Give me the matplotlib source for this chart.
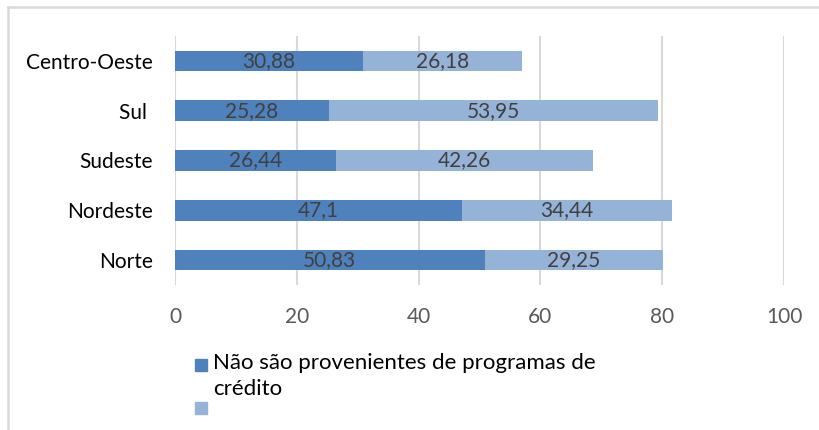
import matplotlib.pyplot as plt
from matplotlib.lines import Line2D
from matplotlib.patches import Rectangle

plt.rcParams['font.family'] = ['Lato', 'DejaVu Sans']

regions = ['Norte', 'Nordeste', 'Sudeste', 'Sul ', 'Centro-Oeste']
nao_credito = [50.83, 47.1, 26.44, 25.28, 30.88]
credito = [29.25, 34.44, 42.26, 53.95, 26.18]
x_ticks = [0, 20, 40, 60, 80, 100]

dark = '#4F81BD'
light = '#95B3D7'

W, H = 819, 430
fig = plt.figure(figsize=(W / 100, H / 100), dpi=100)
ax = fig.add_axes([175 / W, 1 - 285 / H, (784 - 175) / W, (285 - 36) / H])

pos = list(range(len(regions)))
ax.barh(pos, nao_credito, height=0.41, color=dark, zorder=3)
ax.barh(pos, credito, left=nao_credito, height=0.41, color=light, zorder=3)

def fmt(v):
    return ('%g' % v).replace('.', ',')

for i in pos:
    ax.text(nao_credito[i] / 2, i, fmt(nao_credito[i]), ha='center', va='center',
            fontsize=15, color='#404040', zorder=4)
    ax.text(nao_credito[i] + credito[i] / 2, i, fmt(credito[i]), ha='center', va='center',
            fontsize=15, color='#404040', zorder=4)

ax.set_xlim(0, 100)
ax.set_ylim(-0.5, 4.5)
ax.set_xticks(x_ticks)
ax.set_xticklabels([str(t) for t in x_ticks], fontsize=15, color='#595959')
ax.set_yticks(pos)
ax.set_yticklabels(regions, fontsize=15, color='black')
ax.tick_params(axis='both', length=0)
ax.tick_params(axis='x', pad=16)
ax.tick_params(axis='y', pad=16)
ax.grid(axis='x', color='#D9D9D9', linewidth=1.5, zorder=0)
for s in ax.spines.values():
    s.set_visible(False)

# frame of the chart area (cut by the image edges)
fig.add_artist(Line2D([8 / W, 8 / W], [0, 1 - 7 / H], color='#D9D9D9', linewidth=1.8))
fig.add_artist(Line2D([8 / W, 1], [1 - 7 / H, 1 - 7 / H], color='#D9D9D9', linewidth=1.8))

# legend
fig.add_artist(Rectangle((195 / W, 1 - 371 / H), 12 / W, 12 / H, color=dark))
fig.add_artist(Rectangle((195 / W, 1 - 414 / H), 12 / W, 12 / H, color=light))
fig.text(213 / W, 1 - 353 / H, 'Não são provenientes de programas de\ncrédito',
         fontsize=16, color='black', va='top', ha='left', linespacing=1.35)

fig.savefig('out.png', dpi=100)
